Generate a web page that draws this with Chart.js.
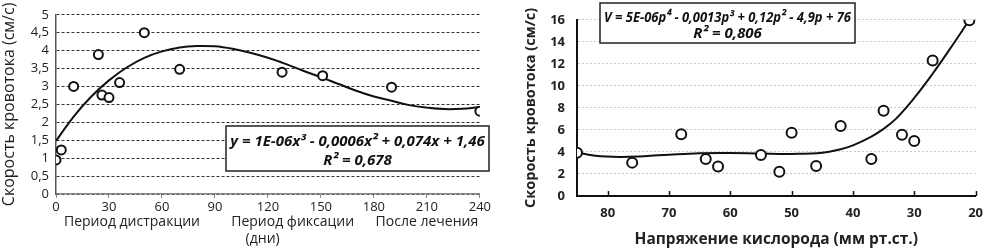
<!DOCTYPE html>
<html>
<head>
<meta charset="utf-8">
<script src="https://cdn.jsdelivr.net/npm/chart.js@4.4.1/dist/chart.umd.min.js"></script>
<style>
    html, body { margin: 0; padding: 0; background: #fff; }
    #wrap { position: relative; width: 992px; height: 249px; overflow: hidden; }
    #leftBox { position: absolute; left: 0; top: 0; width: 492px; height: 249px; }
    #rightBox { position: absolute; left: 492px; top: 0; width: 500px; height: 249px; }
</style>
</head>
<body>
<div id="wrap">
    <div id="leftBox"><canvas id="chartLeft" width="492" height="249"></canvas></div>
    <div id="rightBox"><canvas id="chartRight" width="500" height="249"></canvas></div>
</div>
<script>
// left chart: flow speed vs days
var leftDays = [0, 3, 10, 24, 26, 30, 36, 50, 70, 128, 151, 190, 240];
var leftSpeed = [0.95, 1.23, 3.0, 3.89, 2.76, 2.69, 3.11, 4.5, 3.48, 3.4, 3.3, 2.98, 2.31];
var leftTrendDays = [0, 10, 20, 30, 40, 50, 60, 70, 80, 90, 100, 110, 120, 130, 140, 150, 160, 170, 180, 190, 200, 210, 220, 230, 240];
var leftTrendSpeed = [1.48, 2.16, 2.72, 3.17, 3.53, 3.8, 3.98, 4.09, 4.13, 4.12, 4.05, 3.94, 3.8, 3.63, 3.44, 3.26, 3.07, 2.88, 2.72, 2.6, 2.48, 2.41, 2.37, 2.38, 2.43];
var leftPhaseLabels = ["Период дистракции", "Период фиксации", "После лечения"];
var leftPhaseCenters = [43, 134, 210];   // in days, where the phase names sit
var leftEquation = ["y = 1E-06x³ - 0,0006x² + 0,074x + 1,46", "R² = 0,678"];

// right chart: flow speed vs oxygen tension
var rightPressure = [85, 76, 68, 64, 62, 55, 52, 50, 46, 42, 37, 35, 32, 30, 27, 21];
var rightSpeed = [3.93, 3.03, 5.6, 3.37, 2.67, 3.72, 2.2, 5.75, 2.72, 6.35, 3.37, 7.75, 5.56, 5.0, 12.3, 15.95];
var rightTrendPressure = [85, 82, 78, 74, 70, 65, 60, 55, 50, 45, 42, 40, 37, 35, 33, 30, 27, 24, 21];
var rightTrendSpeed = [3.95, 3.65, 3.55, 3.62, 3.75, 3.88, 3.9, 3.85, 3.82, 3.92, 4.25, 4.6, 5.4, 6.1, 7.0, 8.9, 11.1, 13.5, 16.0];
var rightEquation = ["V = 5E-06p⁴ - 0,0013p³ + 0,12p² - 4,9p + 76", "R² = 0,806"];

var FONT = "'Open Sans', 'DejaVu Sans', sans-serif";

function toXY(xs, ys) {
    return xs.map(function (x, i) { return { x: x, y: ys[i] }; });
}

function drawEquationBox(ctx, box, lines) {
    ctx.save();
    ctx.fillStyle = "#fff";
    ctx.fillRect(box.x, box.y, box.w, box.h);
    ctx.strokeStyle = "#222";
    ctx.lineWidth = 1.5;
    ctx.strokeRect(box.x, box.y, box.w, box.h);
    ctx.fillStyle = "#111";
    ctx.textAlign = "center";
    ctx.textBaseline = "middle";
    var size = 15;
    ctx.font = "italic bold " + size + "px " + FONT;
    var wmax = box.w - 8;
    var w = ctx.measureText(lines[0]).width;
    if (w > wmax) {
        // squeeze the line horizontally rather than shrinking it
        var cx0 = box.x + box.w / 2;
        ctx.save();
        ctx.translate(cx0, 0);
        ctx.scale(wmax / w, 1);
        ctx.fillText(lines[0], 0, box.y + box.h * 0.36);
        ctx.restore();
    } else {
        ctx.fillText(lines[0], box.x + box.w / 2, box.y + box.h * 0.36);
    }
    ctx.fillText(lines[1], box.x + box.w / 2, box.y + box.h * 0.78);
    ctx.restore();
}

var leftExtras = {
    id: "leftExtras",
    afterDraw: function (chart) {
        var ctx = chart.ctx;
        var xs = chart.scales.x;
        ctx.save();
        ctx.fillStyle = "#222";
        ctx.font = "14px " + FONT;
        ctx.textAlign = "center";
        ctx.textBaseline = "middle";
        leftPhaseLabels.forEach(function (t, i) {
            ctx.fillText(t, xs.getPixelForValue(leftPhaseCenters[i]), 222);
        });
        ctx.fillText("(дни)", xs.getPixelForValue(117), 239);
        ctx.restore();
        drawEquationBox(ctx, { x: 226, y: 126, w: 263, h: 45 }, leftEquation);
    }
};

var rightExtras = {
    id: "rightExtras",
    afterDraw: function (chart) {
        var ctx = chart.ctx;
        var xs = chart.scales.x;
        var bottom = chart.chartArea.bottom;
        ctx.save();
        ctx.strokeStyle = "#111";
        ctx.lineWidth = 1.5;
        for (var v = 80; v >= 20; v -= 10) {
            var px = Math.round(xs.getPixelForValue(v)) + 0.5;
            ctx.beginPath();
            ctx.moveTo(px, bottom);
            ctx.lineTo(px, bottom - 5);
            ctx.stroke();
        }
        ctx.restore();
        drawEquationBox(ctx, { x: 108, y: 3, w: 255, h: 40 }, rightEquation);
    }
};

Chart.defaults.font.family = FONT;
Chart.defaults.animation = false;

new Chart(document.getElementById("chartLeft").getContext("2d"), {
    type: "scatter",
    data: {
        datasets: [
            {
                data: toXY(leftDays, leftSpeed),
                pointRadius: 4.5,
                pointBorderWidth: 2,
                pointBorderColor: "#111",
                pointBackgroundColor: "#fff",
            },
            {
                data: toXY(leftTrendDays, leftTrendSpeed),
                showLine: true,
                pointRadius: 0,
                borderColor: "#111",
                borderWidth: 2,
                tension: 0.4,
            },
        ],
    },
    options: {
        responsive: false,
        devicePixelRatio: 1,
        layout: { padding: { top: 6, right: 12, left: 0, bottom: 0 } },
        plugins: { legend: { display: false }, tooltip: { enabled: false } },
        scales: {
            x: {
                type: "linear",
                min: 0,
                max: 240,
                afterFit: function (s) { s.height = 55; },
                ticks: { stepSize: 30, color: "#222", font: { size: 13 }, padding: 1, maxRotation: 0, autoSkip: false },
                grid: { drawOnChartArea: false, drawTicks: true, tickLength: 4, color: "#888" },
                border: { color: "#888", width: 1.5 },
            },
            y: {
                min: 0,
                max: 5,
                afterFit: function (s) { s.width = 56; },
                ticks: {
                    stepSize: 0.5,
                    autoSkip: false,
                    color: "#222",
                    font: { size: 13 },
                    padding: 7,
                    callback: function (v) { return String(v).replace(".", ","); },
                },
                grid: { color: "#333", drawTicks: false, lineWidth: 1 },
                border: { color: "#555", width: 1.5, dash: [3, 2] },
                title: {
                    display: true,
                    text: "Скорость кровотока (см/с)",
                    color: "#222",
                    font: { size: 16 },
                    padding: { top: 0, bottom: 0 },
                },
            },
        },
    },
    plugins: [leftExtras],
});

new Chart(document.getElementById("chartRight").getContext("2d"), {
    type: "scatter",
    data: {
        datasets: [
            {
                data: toXY(rightPressure, rightSpeed),
                pointRadius: 5,
                pointBorderWidth: 2,
                pointBorderColor: "#111",
                pointBackgroundColor: "#fff",
            },
            {
                data: toXY(rightTrendPressure, rightTrendSpeed),
                showLine: true,
                pointRadius: 0,
                borderColor: "#111",
                borderWidth: 2,
                tension: 0.4,
            },
        ],
    },
    options: {
        responsive: false,
        devicePixelRatio: 1,
        layout: { padding: { top: 6, right: 9, left: 30, bottom: 0 } },
        plugins: { legend: { display: false }, tooltip: { enabled: false } },
        scales: {
            x: {
                type: "linear",
                reverse: true,
                min: 20,
                max: 85,
                afterFit: function (s) { s.height = 53; },
                ticks: {
                    stepSize: 10,
                    autoSkip: false,
                    color: "#222",
                    font: { size: 13, weight: "bold" },
                    padding: 9,
                    maxRotation: 0,
                    callback: function (v) { return v === 85 ? null : v; },
                },
                grid: { drawOnChartArea: false, drawTicks: false },
                border: { color: "#111", width: 2 },
                title: {
                    display: true,
                    text: "Напряжение кислорода (мм рт.ст.)",
                    color: "#222",
                    font: { size: 15.5, weight: "bold" },
                    padding: { top: 0, bottom: 0 },
                },
            },
            y: {
                min: 0,
                max: 16,
                afterFit: function (s) { s.width = 55; },
                ticks: { stepSize: 2, autoSkip: false, color: "#222", font: { size: 13, weight: "bold" }, padding: 12 },
                grid: { color: "#c8c8c8", drawTicks: false, lineWidth: 1 },
                border: { color: "#111", width: 2, dash: [2, 2] },
                title: {
                    display: true,
                    text: "Скорость кровотока (см/с)",
                    color: "#222",
                    font: { size: 14.5, weight: "bold" },
                    padding: { top: 0, bottom: 0 },
                },
            },
        },
    },
    plugins: [rightExtras],
});
</script>
</body>
</html>
